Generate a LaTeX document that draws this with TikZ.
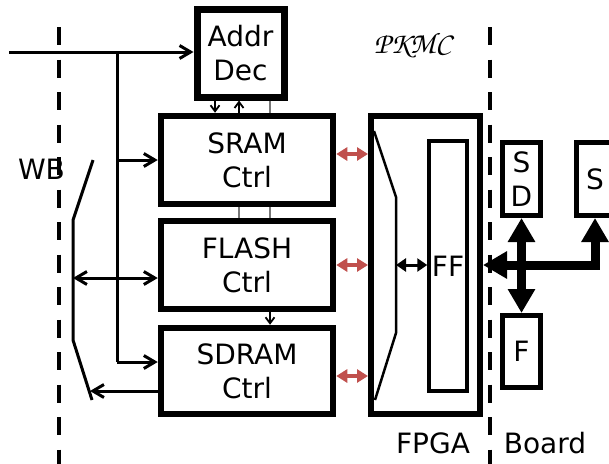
\documentclass[tikz,border=0pt]{standalone}
\usepackage[T1,TU]{fontenc}
\usepackage{fontspec}
\setmainfont{DejaVu Sans}
\usetikzlibrary{arrows.meta,calc}
\definecolor{arrred}{RGB}{192,80,77}
\definecolor{sig}{RGB}{120,120,120}
\newcommand\pkmcfont{\fontencoding{T1}\fontfamily{pzc}\fontseries{mb}\fontshape{it}\fontsize{30}{34}\selectfont}
\begin{document}
\begin{tikzpicture}[x=1pt,y=-1pt,
  obarb/.tip={Straight Barb[length=11pt,width=13pt]},
  sbarb/.tip={Straight Barb[length=6pt,width=9pt]},
  rtri/.tip={Triangle[length=11pt,width=13pt]},
  btri/.tip={Triangle[length=10pt,width=13pt]},
  ttri/.tip={Triangle[length=24pt,width=26pt]},
  box/.style={draw, line width=6.5pt, minimum width=172pt, minimum height=88pt,
    inner sep=0pt, align=center, font=\fontsize{28}{34}\selectfont},
  lbl/.style={inner sep=0pt, font=\fontsize{28}{34}\selectfont},
  wire/.style={line width=3pt},
  small/.style={line width=1.8pt},
  sigl/.style={line width=1.3pt, draw=sig},
  redarr/.style={draw=arrred, line width=4pt, rtri-rtri},
  blackarr/.style={line width=3pt, btri-btri},
  thickarr/.style={line width=9pt, line join=miter, ttri-ttri},
  dashline/.style={line width=4pt, dash pattern=on 18pt off 14.5pt}]
\useasboundingbox (0,0) rectangle (609,463);

% dashed separators
\coordinate (dl1) at (58.7,27);
\coordinate (dl2) at (58.7,470);
\coordinate (dr1) at (489.7,27);
\coordinate (dr2) at (489.7,470);
\draw[dashline] (dl1) -- (dl2);
\draw[dashline] (dr1) -- (dr2);

% boxes
\node[box, line width=7pt, minimum width=87pt, minimum height=87.5pt] (addr) at (240.5,53.25) {Addr\\Dec};
\node[box] (sram) at (247,160) {SRAM\\Ctrl};
\node[box] (flash) at (247,265) {FLASH\\Ctrl};
\node[box, minimum height=86pt] (sdram) at (247,371) {SDRAM\\Ctrl};
\node[box, line width=6pt, minimum width=109pt, minimum height=298pt] (fpga) at (425.5,265) {};
\node[box, line width=3.5pt, minimum width=38pt, minimum height=250pt] (ff) at (448,266) {FF};
\node[box, line width=5pt, minimum width=38pt, minimum height=73pt] (sd) at (521.5,179) {S\\D};
\node[box, line width=5pt, minimum width=37pt, minimum height=73pt] (sb) at (595,179) {S};
\node[box, line width=5pt, minimum width=38pt, minimum height=72pt] (fb) at (521.5,351.5) {F};

% labels
\node[lbl, anchor=base] (wb) at (41.5,179) {WB};
\node[lbl, anchor=base] (fpgat) at (433,453) {FPGA};
\node[lbl, anchor=base] (board) at (545,453) {Board};
\node[inner sep=0pt, anchor=base, font=\pkmcfont] (pkmc) at (412.5,53) {PKMC};

% bus
\coordinate (busin) at (9,52);
\coordinate (bj) at (117,52);
\coordinate (bb) at (117,362);
\draw[wire, -obarb] (busin) -- (busin -| addr.west);
\draw[wire] (bj) -- (bb);
\draw[wire, -obarb] (bb) -- (bb -| sdram.west);
\draw[wire, -obarb] (bj |- sram.west) -- (sram.west);

% left mux
\coordinate (lm1) at (93,160);
\coordinate (lm2) at (73,220);
\coordinate (lm3) at (73,340);
\coordinate (lm4) at (92,400);
\draw[wire] (lm1) -- (lm2) -- (lm3) -- (lm4);
\coordinate (lb) at (73,278);
\draw[wire, obarb-obarb] (lb) -- (lb -| flash.west);
\coordinate (lo) at (90,391);
\draw[wire, -obarb] (lo -| sdram.west) -- (lo);

% control signals between controllers
\coordinate (x215) at (215,0);
\coordinate (x239) at (239,0);
\coordinate (x270) at (270,0);
\draw[small, -sbarb] (addr.south -| x215) -- (sram.north -| x215);
\draw[small, -sbarb] (sram.north -| x239) -- (addr.south -| x239);
\draw[sigl] (addr.south -| x270) -- (sram.north -| x270);
\draw[sigl] (sram.south -| x239) -- (flash.north -| x239);
\draw[sigl] (sram.south -| x270) -- (flash.north -| x270);
\draw[small, -sbarb] (flash.south -| x270) -- (sdram.north -| x270);

% red links
\coordinate (r1) at (0,154);
\coordinate (r2) at (0,265);
\coordinate (r3) at (0,376);
\draw[redarr] (sram.east |- r1) -- (fpga.west |- r1);
\draw[redarr] (flash.east |- r2) -- (fpga.west |- r2);
\draw[redarr] (sdram.east |- r3) -- (fpga.west |- r3);

% inner mux
\coordinate (im1) at (374,131);
\coordinate (im2) at (396,197);
\coordinate (im3) at (396,333);
\coordinate (im4) at (375,400);
\draw[line width=2.5pt] (im1) -- (im2) -- (im3) -- (im4);
\coordinate (imc) at (396,265);
\draw[blackarr] (imc) -- (imc -| ff.west);

% board connections
\draw[thickarr] (sd.south) -- (fb.north);
\draw[thickarr] (sb.south) |- (fpga.east);
\end{tikzpicture}
\end{document}
